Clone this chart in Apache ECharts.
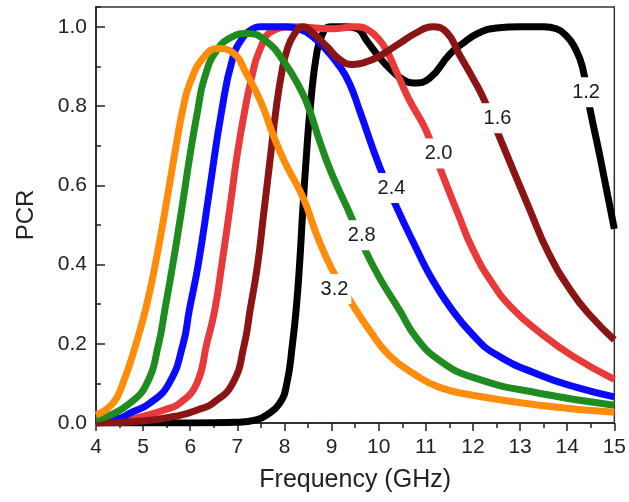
<!DOCTYPE html>
<html>
<head>
<meta charset="utf-8">
<script src="https://cdn.jsdelivr.net/npm/echarts@6/dist/echarts.min.js"></script>
<style>
html,body{margin:0;padding:0;background:#fff;}
#chart{width:629px;height:502px;}
</style>
</head>
<body>
<div id="chart"></div>
<script>
// Frequency (GHz) / PCR pairs
const curve12 = [[4.0,0],[5.0,0],[6.0,0.0],[7.0,0.002],[7.4,0.008],[7.62,0.02],[7.9,0.05],[8.05,0.1],[8.17,0.2],[8.25,0.29],[8.32,0.4],[8.39,0.54],[8.48,0.7],[8.55,0.8],[8.68,0.93],[8.8,0.98],[8.96,1.0],[9.3,1.0],[9.55,0.995],[9.74,0.966],[10.0,0.925],[10.23,0.895],[10.5,0.868],[10.75,0.858],[11.08,0.87],[11.5,0.93],[11.78,0.958],[12.1,0.983],[12.5,0.997],[13.0,1.0],[13.5,1.0],[13.77,0.995],[14.0,0.975],[14.15,0.95],[14.32,0.9],[14.47,0.8],[14.7,0.67],[15.0,0.49]];
const curve16 = [[4.0,0.0],[5.0,0.005],[5.8,0.02],[6.2,0.035],[6.48,0.05],[6.9,0.1],[7.15,0.2],[7.27,0.285],[7.43,0.4],[7.56,0.53],[7.69,0.66],[7.83,0.8],[7.95,0.89],[8.05,0.94],[8.2,0.98],[8.39,1.0],[8.6,0.985],[8.9,0.95],[9.2,0.915],[9.45,0.905],[9.7,0.91],[10.0,0.925],[10.4,0.955],[10.8,0.985],[11.14,1.0],[11.45,0.985],[11.71,0.93],[12.0,0.87],[12.24,0.815],[12.52,0.734],[13.2,0.54],[13.6,0.43],[14.1,0.33],[14.5,0.27],[15.0,0.21]];
const curve20 = [[4.0,0.0],[4.5,0.005],[5.1,0.02],[5.5,0.035],[5.78,0.05],[6.14,0.1],[6.35,0.2],[6.52,0.285],[6.67,0.4],[6.85,0.55],[7.0,0.68],[7.16,0.79],[7.3,0.87],[7.47,0.94],[7.75,0.99],[8.2,1.0],[9.0,0.995],[9.53,1.0],[9.8,0.99],[10.02,0.966],[10.17,0.94],[10.4,0.88],[10.65,0.815],[11.0,0.74],[11.29,0.646],[11.71,0.52],[11.99,0.44],[12.4,0.355],[12.83,0.29],[13.4,0.23],[14.1,0.17],[15.0,0.11]];
const curve24 = [[4.0,0.005],[4.5,0.012],[4.72,0.025],[5.14,0.05],[5.55,0.1],[5.85,0.2],[5.98,0.285],[6.17,0.4],[6.4,0.58],[6.67,0.79],[6.9,0.92],[7.1,0.97],[7.3,0.993],[7.5,1.0],[8.0,1.0],[8.3,0.995],[8.6,0.975],[8.9,0.94],[9.17,0.9],[9.38,0.857],[9.59,0.79],[10.02,0.646],[10.38,0.545],[10.8,0.44],[11.1,0.37],[11.5,0.295],[12.0,0.222],[12.5,0.172],[13.4,0.122],[14.2,0.09],[15.0,0.066]];
const curve28 = [[4.0,0.01],[4.3,0.02],[4.72,0.05],[5.08,0.1],[5.33,0.2],[5.46,0.285],[5.63,0.4],[5.82,0.54],[6.0,0.68],[6.16,0.79],[6.3,0.87],[6.56,0.94],[6.9,0.975],[7.2,0.983],[7.6,0.965],[8.0,0.91],[8.35,0.84],[8.53,0.79],[8.75,0.71],[9.0,0.63],[9.38,0.53],[9.66,0.45],[10.0,0.37],[10.44,0.285],[10.8,0.215],[11.29,0.158],[12.0,0.115],[13.4,0.075],[15.0,0.045]];
const curve32 = [[4.0,0.02],[4.36,0.05],[4.57,0.1],[4.85,0.2],[5.08,0.3],[5.29,0.42],[5.5,0.56],[5.7,0.7],[5.84,0.79],[6.0,0.86],[6.3,0.925],[6.6,0.945],[6.9,0.935],[7.2,0.88],[7.5,0.81],[7.75,0.73],[8.0,0.66],[8.39,0.57],[8.7,0.47],[9.0,0.39],[9.44,0.3],[9.8,0.235],[10.23,0.17],[10.8,0.12],[11.29,0.09],[12.0,0.07],[13.4,0.045],[15.0,0.027]];
// curve annotations: [frequency, PCR, text]
const curveLabels = [[14.40,0.835,'1.2'],[12.52,0.769,'1.6'],[11.27,0.680,'2.0'],[10.27,0.593,'2.4'],[9.64,0.474,'2.8'],[9.06,0.338,'3.2']];
const xTicks = {min:4, max:15, interval:1};
const yTicks = {min:0, max:1.05, interval:0.2};

const chart = echarts.init(document.getElementById('chart'), null, {renderer:'canvas'});
const FONT = '"Liberation Sans", Arial, sans-serif';
function line(name, data, color, z){
  return {name, type:'line', data, smooth:0.5, showSymbol:false, z,
    lineStyle:{color, width:7, cap:'butt', join:'round'}, itemStyle:{color}};
}
chart.setOption({
  animation:false,
  backgroundColor:'#fff',
  grid:{left:96, right:14, top:7, bottom:79, show:true, borderColor:'#333', borderWidth:1.5, backgroundColor:'#fff'},
  xAxis:{type:'value', min:xTicks.min, max:xTicks.max, interval:xTicks.interval,
    name:'Frequency (GHz)', nameLocation:'middle', nameGap:45,
    nameTextStyle:{fontFamily:FONT, fontSize:25, color:'#222'},
    axisLine:{lineStyle:{color:'#222', width:1.5}},
    axisTick:{inside:false, length:8, lineStyle:{color:'#222', width:1.5}},
    minorTick:{show:true, splitNumber:2, length:5, lineStyle:{color:'#222', width:1.5}},
    axisLabel:{fontFamily:FONT, fontSize:21, color:'#222', margin:14},
    splitLine:{show:false}},
  yAxis:[{type:'value', min:yTicks.min, max:yTicks.max, interval:yTicks.interval,
    name:'PCR', nameLocation:'middle', nameGap:58,
    nameTextStyle:{fontFamily:FONT, fontSize:24, color:'#222'},
    axisLine:{lineStyle:{color:'#222', width:1.5}},
    axisTick:{inside:true, length:9, lineStyle:{color:'#222', width:1.5}},
    axisLabel:{fontFamily:FONT, fontSize:21, color:'#222', margin:9, showMaxLabel:false,
      formatter:v=>v.toFixed(1)},
    splitLine:{show:false}},
   {type:'value', min:yTicks.min, max:yTicks.max, interval:yTicks.interval/2, position:'left',
    axisLine:{show:false}, axisLabel:{show:false}, splitLine:{show:false},
    axisTick:{inside:true, length:5, lineStyle:{color:'#222', width:1.5}}}],
  series:[
    line('1.2', curve12, '#000000', 2),
    line('2.0', curve20, '#e83a3a', 3),
    line('2.4', curve24, '#0a0aff', 4),
    line('1.6', curve16, '#8b1414', 5),
    line('2.8', curve28, '#1e8c1e', 6),
    line('3.2', curve32, '#ff8c0a', 7),
    {type:'scatter', data:curveLabels, symbolSize:1, itemStyle:{color:'#ffffff', opacity:1}, z:20,
     emphasis:{disabled:true},
     label:{show:true, position:'inside', formatter:p=>p.value[2], fontFamily:FONT, fontSize:20,
       color:'#1a1a1a', opacity:1, backgroundColor:'#ffffff', padding:[5,3]}}
  ]
});
</script>
</body>
</html>
